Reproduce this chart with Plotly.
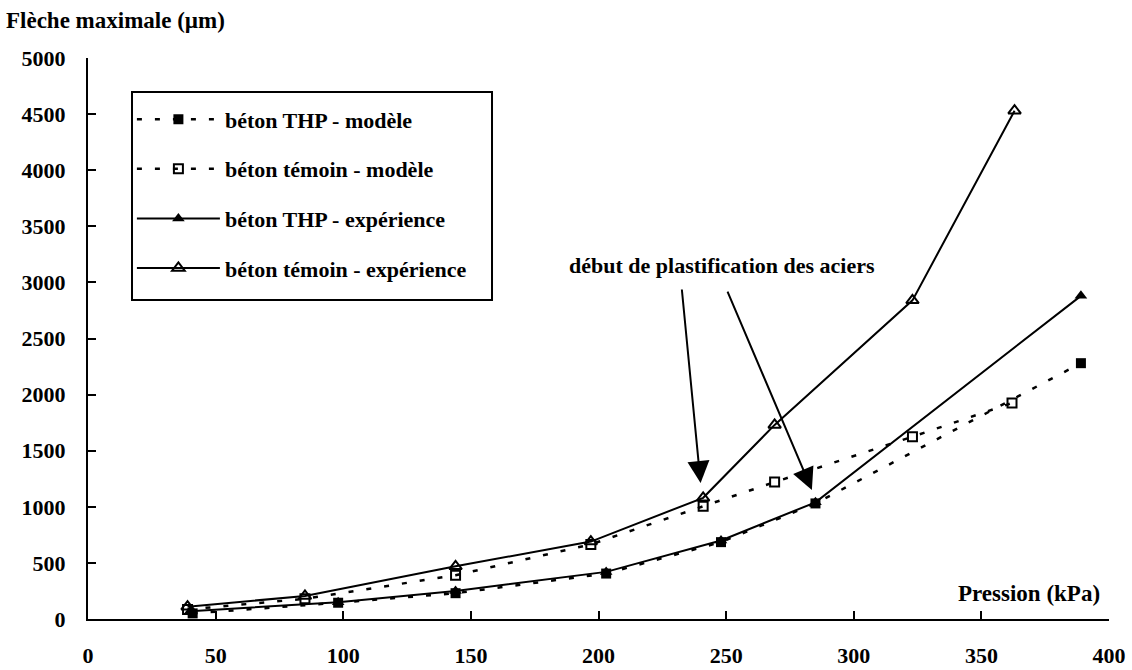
import plotly.graph_objects as go

# Data
thp_model_x = [41, 98, 144, 203, 248, 285, 389]
thp_model_y = [50, 145, 230, 405, 685, 1030, 2280]

temoin_model_x = [39, 85, 144, 197, 241, 269, 323, 362]
temoin_model_y = [85, 180, 390, 665, 1005, 1220, 1625, 1925]

thp_exp_x = [40, 98, 144, 203, 248, 285, 389]
thp_exp_y = [70, 150, 250, 420, 700, 1040, 2880]

temoin_exp_x = [39, 85, 144, 197, 241, 269, 323, 363]
temoin_exp_y = [110, 205, 470, 690, 1080, 1730, 2840, 4530]

x_ticks = [0, 50, 100, 150, 200, 250, 300, 350, 400]
y_ticks = [0, 500, 1000, 1500, 2000, 2500, 3000, 3500, 4000, 4500, 5000]

FONT = "Liberation Serif, Times New Roman, DejaVu Serif, serif"
DOT = "5px,13px"

fig = go.Figure()
fig.add_trace(go.Scatter(
    x=thp_model_x, y=thp_model_y, name="<b>béton THP - modèle</b>", legendgroup="a",
    mode="lines+markers",
    line=dict(color="black", width=2.5, dash=DOT),
    marker=dict(symbol="square", size=10, color="black")))
fig.add_trace(go.Scatter(
    x=temoin_model_x, y=temoin_model_y, name="<b>béton témoin - modèle</b>", legendgroup="b",
    mode="lines+markers",
    line=dict(color="black", width=2.5, dash=DOT),
    marker=dict(symbol="square-open", size=9, color="black", line=dict(width=2))))
fig.add_trace(go.Scatter(
    x=thp_exp_x, y=thp_exp_y, name="<b>béton THP - expérience</b>", legendgroup="c",
    mode="lines+markers",
    line=dict(color="black", width=2),
    marker=dict(symbol="triangle-up", size=11, color="black")))
fig.add_trace(go.Scatter(
    x=temoin_exp_x, y=temoin_exp_y, name="<b>béton témoin - expérience</b>", legendgroup="d",
    mode="lines+markers",
    line=dict(color="black", width=2),
    marker=dict(symbol="triangle-up-open", size=11, color="black", line=dict(width=2))))

# Arrows "début de plastification des aciers"
fig.add_annotation(x=240, y=1212, ax=232.6, ay=2950, axref="x", ayref="y",
                   xref="x", yref="y", text="", showarrow=True,
                   arrowhead=2, arrowsize=2.2, arrowwidth=2, arrowcolor="black")
fig.add_annotation(x=283.6, y=1150, ax=250.3, ay=2932, axref="x", ayref="y",
                   xref="x", yref="y", text="", showarrow=True,
                   arrowhead=2, arrowsize=2.2, arrowwidth=2, arrowcolor="black")
fig.add_annotation(x=248.3, y=3155, xref="x", yref="y",
                   text="<b>début de plastification des aciers</b>", showarrow=False,
                   font=dict(family=FONT, size=22, color="black"))

# Axis titles
fig.add_annotation(x=0, y=1, xref="paper", yref="paper", xanchor="left", yanchor="middle",
                   xshift=-84, yshift=38,
                   text="<b>Flèche maximale (µm)</b>", showarrow=False,
                   font=dict(family=FONT, size=23, color="black"))
fig.add_annotation(x=1, y=0, xref="paper", yref="paper", xanchor="right", yanchor="middle",
                   xshift=-7, yshift=26,
                   text="<b>Pression (kPa)</b>", showarrow=False,
                   font=dict(family=FONT, size=23, color="black"))

# Legend frame
fig.add_shape(type="rect", xref="paper", yref="paper",
              x0=0.0431, x1=0.3957, y0=0.5686, y1=0.9394,
              line=dict(color="black", width=2), fillcolor="rgba(0,0,0,0)")

fig.update_layout(
    width=1132, height=670,
    margin=dict(l=88, r=23, t=58, b=51),
    paper_bgcolor="white", plot_bgcolor="white",
    font=dict(family=FONT, size=22, color="black"),
    showlegend=True,
    legend=dict(x=0.043, y=0.928, xanchor="left", yanchor="top",
                borderwidth=0, bgcolor="rgba(0,0,0,0)",
                tracegroupgap=18, itemwidth=83,
                font=dict(family=FONT, size=22, color="black")),
    xaxis=dict(range=[0, 400], tickvals=x_ticks, ticktext=[f"<b>{v}</b>" for v in x_ticks],
               showgrid=False, zeroline=False, showline=True, linecolor="black", linewidth=2,
               ticks="inside", ticklen=8, tickwidth=2, tickcolor="black",
               ticklabelstandoff=16, automargin=False),
    yaxis=dict(range=[0, 5000], tickvals=y_ticks, ticktext=[f"<b>{v}</b>" for v in y_ticks],
               showgrid=False, zeroline=False, showline=True, linecolor="black", linewidth=2,
               ticks="inside", ticklen=8, tickwidth=2, tickcolor="black",
               ticklabelstandoff=16, automargin=False),
)

fig.write_html("out.html", config={"displayModeBar": False},
               post_script="document.body.style.margin='0';document.body.style.overflow='hidden';")
